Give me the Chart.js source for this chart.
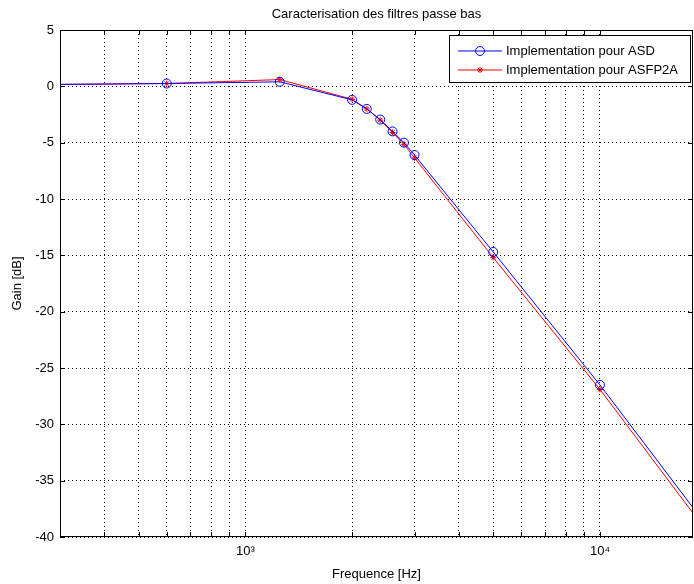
<!DOCTYPE html>
<html>
<head>
<meta charset="utf-8">
<script src="https://cdn.jsdelivr.net/npm/chart.js@4.4.1/dist/chart.umd.min.js"></script>
<style>
  html, body { margin: 0; padding: 0; background: #fff; }
</style>
</head>
<body>
<canvas id="filtres" width="694" height="584"></canvas>
<script>
// valeurs
const freqASD = [100, 600, 1250, 2000, 2200, 2400, 2600, 2800, 3000, 5000, 10000, 20000]
const gainASD = [0.05, 0.25, 0.4, -1.2, -2.0, -2.95, -4.0, -5.0, -6.1, -14.7, -26.5, -39.0]
const freqASFP2A = [100, 600, 1250, 2000, 2200, 2400, 2600, 2800, 3000, 5000, 10000, 20000]
const gainASFP2A = [0.05, 0.25, 0.6, -1.15, -2.0, -3.0, -4.1, -5.15, -6.35, -15.2, -26.9, -39.5]
const seriesLabels = ['Implementation pour ASD', 'Implementation pour ASFP2A']
const xTickValues = [400, 500, 600, 700, 800, 900, 1000, 2000, 3000, 4000, 5000, 6000, 7000, 8000, 9000, 10000]
const xTickLabels = {1000: '10\u00b3', 10000: '10\u2074'}
const xMin = 300, xMax = 18300
const yMin = -40, yMax = 5, yStep = 5

const FONT = "'Liberation Sans', Arial, sans-serif"
Chart.defaults.font.family = FONT
Chart.defaults.font.size = 13
Chart.defaults.color = '#000'

const pts = (xs, ys) => xs.map((x, i) => ({x: x, y: ys[i]}))

// cadre, petites graduations internes, titre et legende facon matlab
const habillage = {
  id: 'habillage',
  afterDatasetsDraw(chart) {
    const {ctx, chartArea: {left, right, top, bottom}, scales: {x, y}} = chart
    ctx.save()
    ctx.strokeStyle = '#000'
    ctx.lineWidth = 1
    ctx.setLineDash([])
    ctx.beginPath()
    xTickValues.forEach(v => {
      const px = Math.round(x.getPixelForValue(v)) + 0.5
      ctx.moveTo(px, bottom); ctx.lineTo(px, bottom - 5)
      ctx.moveTo(px, top); ctx.lineTo(px, top + 5)
    })
    for (let v = yMin; v <= yMax; v += yStep) {
      const py = Math.round(y.getPixelForValue(v)) + 0.5
      ctx.moveTo(left, py); ctx.lineTo(left + 5, py)
      ctx.moveTo(right, py); ctx.lineTo(right - 5, py)
    }
    ctx.stroke()
    ctx.strokeRect(left + 0.5, top + 0.5, right - left - 1, bottom - top - 1)
    ctx.restore()
  },
  afterDraw(chart, args, options) {
    const {ctx, chartArea: {left, right}} = chart
    ctx.save()
    ctx.fillStyle = '#000'
    ctx.font = `13px ${FONT}`
    ctx.textAlign = 'center'
    ctx.textBaseline = 'middle'
    ctx.fillText(options.title, (left + right) / 2, 14)

    // legende
    const bx = 449.5, by = 35.5, bw = 241, bh = 47
    ctx.fillStyle = '#fff'
    ctx.fillRect(bx, by, bw, bh)
    ctx.strokeStyle = '#000'
    ctx.lineWidth = 1
    ctx.strokeRect(bx, by, bw, bh)
    chart.data.datasets.forEach((ds, i) => {
      const ly = 51 + i * 19
      ctx.strokeStyle = ds.borderColor
      ctx.beginPath()
      ctx.moveTo(458, ly); ctx.lineTo(502, ly)
      ctx.stroke()
      if (ds.pointStyle === 'circle') {
        ctx.beginPath()
        ctx.arc(480, ly, 4.5, 0, Math.PI * 2)
        ctx.stroke()
      } else {
        ctx.beginPath()
        for (let k = 0; k < 4; k++) {
          const a = k * Math.PI / 4
          ctx.moveTo(480 - 3 * Math.cos(a), ly - 3 * Math.sin(a))
          ctx.lineTo(480 + 3 * Math.cos(a), ly + 3 * Math.sin(a))
        }
        ctx.stroke()
      }
      ctx.fillStyle = '#000'
      ctx.textAlign = 'left'
      ctx.fillText(ds.label, 506, ly)
    })
    ctx.restore()
  }
}

new Chart(document.getElementById('filtres'), {
  type: 'line',
  data: {
    datasets: [{
      label: seriesLabels[0],
      data: pts(freqASD, gainASD),
      borderColor: '#0000ff',
      backgroundColor: 'rgba(0,0,0,0)',
      borderWidth: 1,
      pointStyle: 'circle',
      pointRadius: 4.5,
      pointBorderWidth: 1,
      tension: 0
    }, {
      label: seriesLabels[1],
      data: pts(freqASFP2A, gainASFP2A),
      borderColor: '#ff0000',
      backgroundColor: 'rgba(0,0,0,0)',
      borderWidth: 1,
      pointStyle: 'star',
      pointRadius: 3,
      pointBorderWidth: 1,
      tension: 0
    }]
  },
  options: {
    responsive: false,
    animation: false,
    devicePixelRatio: 1,
    layout: {autoPadding: false, padding: {top: 30, right: 1, left: 0, bottom: 0}},
    plugins: {
      legend: {display: false},
      tooltip: {enabled: false},
      title: {display: false},
      habillage: {title: 'Caracterisation des filtres passe bas'}
    },
    scales: {
      x: {
        type: 'logarithmic',
        min: xMin,
        max: xMax,
        afterBuildTicks(scale) {
          scale.ticks = xTickValues.map(v => ({value: v}))
        },
        afterFit(scale) {
          scale.height = 47
          scale.paddingLeft = 0
          scale.paddingRight = 0
        },
        ticks: {
          autoSkip: false,
          maxRotation: 0,
          padding: 7,
          font: {size: 13},
          callback: v => xTickLabels[v] || ''
        },
        grid: {color: '#000', lineWidth: 1, drawTicks: false},
        border: {display: false, dash: [1, 3]},
        title: {display: true, text: 'Frequence [Hz]', font: {size: 13}, padding: {top: 0, bottom: 2}}
      },
      y: {
        min: yMin,
        max: yMax,
        afterFit(scale) {
          scale.width = 60
          scale.paddingTop = 0
          scale.paddingBottom = 0
        },
        ticks: {
          stepSize: yStep,
          padding: 6,
          font: {size: 13},
          callback: v => String(v)
        },
        grid: {color: '#000', lineWidth: 1, drawTicks: false},
        border: {display: false, dash: [1, 3]},
        title: {display: true, text: 'Gain [dB]', font: {size: 13}, padding: {top: 10, bottom: 0}}
      }
    }
  },
  plugins: [habillage]
})
</script>
</body>
</html>
